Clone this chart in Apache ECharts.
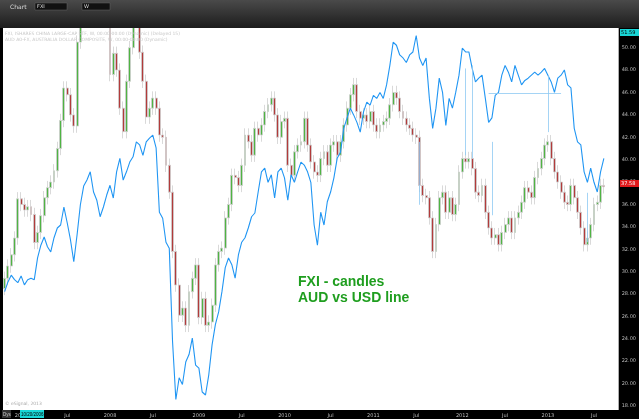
<!DOCTYPE html>
<html><head><meta charset="utf-8">
<script src="https://cdn.jsdelivr.net/npm/echarts@6/dist/echarts.min.js"></script>
<style>html,body{margin:0;padding:0;background:#000}#c{width:639px;height:419px}</style>
</head><body><div id="c"></div>
<script>
// FXI weekly-ish closes (approx. every 2 weeks)
const fxiClose = [
29.4,30.5,31.5,33.0,36.5,36.0,35.5,35.8,35.1,32.6,33.5,35.0,36.6,37.5,38.0,39.0,41.0,43.5,46.4,45.8,44.0,43.0,50.5,53,56,58,60,62,60,63,60,55,47.6,49.5,48,44.6,42.5,47,50,53,55,49.6,47,43.8,44.6,
45.5,44.6,42.2,42,39.5,37.1,31.8,28.8,26.1,26.75,25.2,28.2,29.4,30.6,25.9,27.6,25.2,25.5,27,30.6,31.8,32.1,34.8,36,38.6,38.4,37.7,39.5,42.2,41.6,40.4,42.8,42.2,43.1,44.3,44.9,45.5,44,42,43.4,43.7,39.5,38.6,40.7,41.3,41.6,43.7,
41.3,39.8,38.9,38.6,40.1,40.7,39.5,41.3,41.6,40.4,41.6,43.1,44.6,45.8,46.7,44.3,43.7,44,43.4,44.3,43.1,42.5,43.1,43.4,43.7,44.9,46,45.5,44.3,43.7,43.1,42.8,42.2,42,37.7,36.8,36.6,34.8,31.8,34.2,36.6,37.1,35.3,36.6,35.1,36,
38.9,40.1,39.8,40.1,39.2,37.1,36.8,37.7,35.3,33.9,33,33.3,32.4,33.5,34.2,34.8,33.5,34.8,35.3,36.2,37.5,37.1,36.6,38.4,39.2,40.1,41.3,41.6,40.1,38.9,38,37.1,36.2,36,37.7,36.6,35.3,33.9,32.4,33,34.2,36,36.2,37.7,37.58
];
const fxiFirstOpen = 28.5;
// AUD/USD line, same dates
const audUsd = [
.751,.764,.773,.767,.763,.772,.760,.767,.769,.767,.796,.813,.824,.811,.804,.823,.836,.840,.864,.843,.820,.791,.827,.867,.892,.900,.911,.884,.873,.851,.864,.880,.893,.876,.911,.929,.900,.911,.924,.931,.951,.947,.933,.951,.956,
.960,.943,.857,.849,.817,.809,.684,.607,.636,.627,.657,.667,.689,.653,.649,.617,.613,.640,.680,.707,.724,.751,.783,.796,.787,.769,.800,.817,.823,.836,.851,.856,.884,.911,.916,.897,.907,.876,.911,.916,.903,.873,.907,.897,.911,.924,.920,
.911,.897,.840,.813,.857,.840,.871,.884,.903,.929,.937,.969,.983,.996,.987,.977,.964,.991,1.004,1.000,1.013,1.009,1.017,1.009,1.027,1.053,1.084,1.080,1.067,1.063,1.057,1.067,1.071,1.093,1.063,1.053,1.063,1.009,.969,.996,1.036,1.017,.973,1.009,.996,1.017,
1.040,1.076,1.071,1.071,1.049,1.031,1.036,1.040,1.009,.977,.983,1.013,1.017,1.040,1.053,1.044,1.031,1.053,1.040,1.027,1.033,1.036,1.040,1.044,1.040,1.044,1.049,1.040,1.031,1.017,1.036,1.040,1.047,1.027,1.023,.969,.951,.947,.911,.897,.916,.897,.884,.911,.929
];
const priceTicks = [18,20,22,24,26,28,30,32,34,36,38,40,42,44,46,48,50];
// hand-drawn annotation lines: [index, audFrom, audTo]
const vLines = [[126,0.951,0.867],[140,1.049,0.933],[142,1.053,0.929],[148,0.951,0.853],[165,1.040,0.964],[177,0.883,0.817]];
const hLine = [147,169,1.016];

const nCat = 187, t0 = Date.UTC(2006,9,27), stepMs = 13.7*86400000;
const cats = [];
for (let i=0;i<nCat;i++) cats.push(t0 + i*stepMs);
const candles = fxiClose.map((c,i)=>{
  const o = i===0 ? fxiFirstOpen : fxiClose[i-1];
  return [o, c, Math.min(o,c)-0.6, Math.max(o,c)+0.6];
});
function labelOf(i){
  const d = new Date(cats[i]); const m = d.getUTCMonth();
  const pm = i>0 ? new Date(cats[i-1]).getUTCMonth() : -1;
  if (m!==pm && m===0) return String(d.getUTCFullYear());
  if (m!==pm && m===6) return 'Jul';
  return '';
}
const mlData = vLines.map(v=>[{xAxis:v[0],yAxis:v[1]},{xAxis:v[0],yAxis:v[2]}]);
mlData.push([{xAxis:hLine[0],yAxis:hLine[2]},{xAxis:hLine[1],yAxis:hLine[2]}]);
const chart = echarts.init(document.getElementById('c'));
chart.setOption({
  backgroundColor:'#000',
  animation:false,
  grid:{left:3,right:19,top:28,bottom:9,backgroundColor:'#fff',show:true,borderWidth:0},
  xAxis:{type:'category',data:cats.map((c,i)=>i),boundaryGap:true,
    axisLine:{show:false},axisTick:{show:false},splitLine:{show:false},
    axisLabel:{interval:(i)=>labelOf(i)!=='',formatter:(v,i)=>labelOf(i),color:'#bbb',fontSize:5,margin:3,fontFamily:'DejaVu Sans'}},
  yAxis:[{type:'value',position:'right',min:17.64,max:51.76,
    axisLine:{show:false},axisTick:{show:false},splitLine:{show:false},
    axisLabel:{customValues:priceTicks,formatter:v=>v.toFixed(2),color:'#bbb',fontSize:5,margin:3,fontFamily:'DejaVu Sans'}},
    {type:'value',show:false,min:0.593,max:1.103}],
  series:[
    {type:'candlestick',data:candles,barWidth:2.4,clip:true,
      itemStyle:{color:'#4fb443',color0:'#b23b3b',borderColor:'#cfcfcf',borderColor0:'#cfcfcf',borderWidth:0.8}},
    {type:'line',yAxisIndex:1,data:audUsd,symbol:'none',clip:true,
      lineStyle:{color:'#2196f3',width:1.1},
      markLine:{silent:true,symbol:'none',label:{show:false},lineStyle:{color:'#8ec9f2',width:0.8,type:'solid'},data:mlData}}
  ],
  graphic:[
    {type:'rect',z:100,shape:{x:0,y:0,width:639,height:28},style:{fill:new echarts.graphic.LinearGradient(0,0,0,1,[{offset:0,color:'#4a4a4a'},{offset:1,color:'#1c1c1c'}])}},
    {type:'text',z:101,x:10,y:4,style:{text:'Chart',fill:'#ddd',fontSize:6,fontFamily:'DejaVu Sans'}},
    {type:'rect',z:101,shape:{x:35,y:3,width:32,height:7},style:{fill:'#111',stroke:'#666',lineWidth:0.5}},
    {type:'text',z:102,x:37,y:4,style:{text:'FXI',fill:'#ddd',fontSize:5,fontFamily:'DejaVu Sans'}},
    {type:'rect',z:101,shape:{x:82,y:3,width:28,height:7},style:{fill:'#111',stroke:'#666',lineWidth:0.5}},
    {type:'text',z:102,x:84,y:4,style:{text:'W',fill:'#ddd',fontSize:5,fontFamily:'DejaVu Sans'}},
    {type:'text',z:101,x:5,y:31,style:{text:'FXI, ISHARES CHINA LARGE-CAP ETF, W, 00:00-00:00 (Dynamic) (Delayed 15)',fill:'#c8c8c8',fontSize:4.5,fontFamily:'DejaVu Sans'}},
    {type:'text',z:101,x:5,y:37,style:{text:'AUD A0-FX, AUSTRALIA DOLLAR COMPOSITE, W, 00:00-00:00 (Dynamic)',fill:'#c8c8c8',fontSize:4.5,fontFamily:'DejaVu Sans'}},
    {type:'text',x:5,y:401,style:{text:'© eSignal, 2013',fill:'#aaa',fontSize:4.5,fontFamily:'DejaVu Sans'}},
    {type:'text',x:298,y:274,style:{text:'FXI - candles\nAUD vs USD line',fill:'#1f9e1f',fontSize:14,fontWeight:'bold',lineHeight:16,fontFamily:'Liberation Sans'}},
    {type:'rect',z:101,shape:{x:620,y:180,width:19,height:7},style:{fill:'#e0191b'}},
    {type:'text',z:102,x:621,y:181,style:{text:'37.58',fill:'#fff',fontSize:5,fontFamily:'DejaVu Sans'}},
    {type:'rect',z:101,shape:{x:620,y:29,width:19,height:7},style:{fill:'#19d6d6'}},
    {type:'text',z:102,x:621,y:30,style:{text:'51.59',fill:'#000',fontSize:5,fontFamily:'DejaVu Sans'}},
    {type:'rect',z:101,shape:{x:2,y:410,width:9,height:8},style:{fill:'#333'}},
    {type:'text',z:102,x:3,y:412,style:{text:'Dys',fill:'#ccc',fontSize:4.5}},
    {type:'rect',z:101,shape:{x:20,y:410,width:24,height:8},style:{fill:'#19d6d6'}},
    {type:'text',z:102,x:21,y:412,style:{text:'10/20/2006',fill:'#000',fontSize:4.5}}
  ]
});
</script></body></html>
